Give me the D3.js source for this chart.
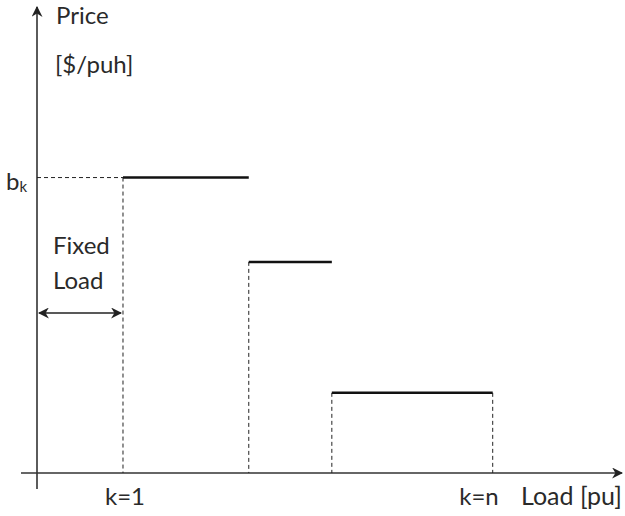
<!DOCTYPE html>
<html><head><meta charset="utf-8">
<script src="https://cdn.jsdelivr.net/npm/d3@7"></script>
<style>body{margin:0;background:#fff}svg{display:block}text{font-family:Lato,"Open Sans",sans-serif;fill:#2a2a2a}</style>
</head><body>
<svg id="c" width="625" height="516"></svg>
<script>
const stepStart = [14.7, 36.2, 50.4];
const stepEnd = [36.2, 50.4, 77.9];
const prices = [63.4, 45.3, 17.2];
const fixedLoad = 14.7;
const tickPos = [14.7, 77.9];
const tickLabels = ["k=1", "k=n"];

const svg = d3.select("#c");
const x = d3.scaleLinear().domain([0, 100]).range([37, 622]);
const y = d3.scaleLinear().domain([0, 100]).range([473, 7]);

const defs = svg.append("defs");
function marker(id, orient){
  defs.append("marker").attr("id", id).attr("viewBox","0 0 10 10").attr("refX",9).attr("refY",5)
    .attr("markerWidth",11).attr("markerHeight",11).attr("markerUnits","userSpaceOnUse").attr("orient",orient)
    .append("path").attr("d","M0,0L10,5L0,10L3,5Z").attr("fill","#222");
}
marker("ah","auto");
marker("ahs","auto-start-reverse");

// axes
svg.append("line").attr("x1", x(0)-16).attr("x2", x(100)).attr("y1", y(0)).attr("y2", y(0))
  .attr("stroke","#333").attr("stroke-width",1.6).attr("marker-end","url(#ah)");
svg.append("line").attr("x1", x(0)).attr("x2", x(0)).attr("y1", y(0)+16).attr("y2", y(100))
  .attr("stroke","#333").attr("stroke-width",1.6).attr("marker-end","url(#ah)");

// dashed verticals
const dash = "4,3";
stepStart.forEach((s,i)=>{
  svg.append("line").attr("x1",x(s)).attr("x2",x(s)).attr("y1",y(prices[i])).attr("y2",y(0))
    .attr("stroke","#222").attr("stroke-width",1).attr("stroke-dasharray",dash);
});
svg.append("line").attr("x1",x(stepEnd[2])).attr("x2",x(stepEnd[2])).attr("y1",y(prices[2])).attr("y2",y(0))
  .attr("stroke","#222").attr("stroke-width",1).attr("stroke-dasharray",dash);
// dashed horizontal to b_k
svg.append("line").attr("x1",x(0)).attr("x2",x(stepStart[0])).attr("y1",y(prices[0])).attr("y2",y(prices[0]))
  .attr("stroke","#222").attr("stroke-width",1).attr("stroke-dasharray",dash);

// steps
stepStart.forEach((s,i)=>{
  svg.append("line").attr("x1",x(s)).attr("x2",x(stepEnd[i])).attr("y1",y(prices[i])).attr("y2",y(prices[i]))
    .attr("stroke","#111").attr("stroke-width",2.5);
});

// fixed load double arrow
svg.append("line").attr("x1",x(0)+2).attr("x2",x(fixedLoad)-2).attr("y1",313).attr("y2",313)
  .attr("stroke","#222").attr("stroke-width",1.6).attr("marker-end","url(#ah)").attr("marker-start","url(#ahs)");

// texts
const fs = 24;
svg.append("text").attr("x",56).attr("y",24).attr("font-size",fs).text("Price");
svg.append("text").attr("x",55).attr("y",73).attr("font-size",fs).text("[$/puh]");
const bk = svg.append("text").attr("x",6).attr("y",190).attr("font-size",fs);
bk.append("tspan").text("b");
bk.append("tspan").attr("font-size",15).attr("dy",2).text("k");
svg.append("text").attr("x",53).attr("y",254).attr("font-size",fs).text("Fixed");
svg.append("text").attr("x",53).attr("y",289).attr("font-size",fs).text("Load");
svg.append("text").attr("x",x(tickPos[0])+2).attr("y",505).attr("text-anchor","middle").attr("font-size",fs).text(tickLabels[0]);
svg.append("text").attr("x",x(tickPos[1])+6).attr("y",505).attr("text-anchor","end").attr("font-size",fs).text(tickLabels[1]);
svg.append("text").attr("x",521).attr("y",505).attr("font-size",25).text("Load [pu]");
</script>
</body></html>
